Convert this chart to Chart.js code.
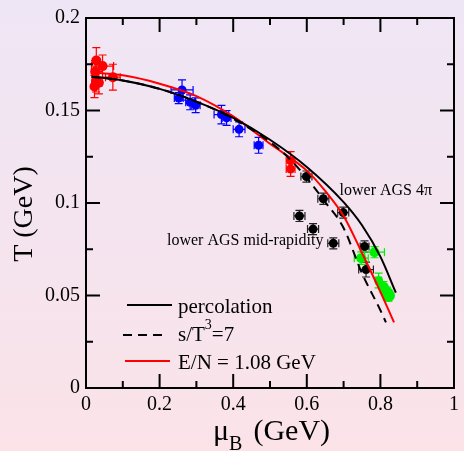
<!DOCTYPE html>
<html><head><meta charset="utf-8">
<script src="https://cdn.jsdelivr.net/npm/chart.js@4/dist/chart.umd.min.js"></script>
<style>
html,body{margin:0;padding:0;width:464px;height:451px;overflow:hidden;background:linear-gradient(180deg,#efe6f5 0%,#f4e4ef 50%,#fbe3e8 100%);}
canvas{display:block}
</style></head><body>
<canvas id="c" width="464" height="451"></canvas>
<script>
// ---- curves ----
const percMu = [0.015,0.1,0.2,0.3,0.4,0.5,0.6,0.7,0.75,0.8,0.842];
const percT  = [0.1683,0.1662,0.1617,0.1548,0.1460,0.1342,0.1195,0.1005,0.0880,0.0710,0.0515];
const entMu  = [0.015,0.1,0.2,0.3,0.4,0.5,0.55,0.6,0.65,0.7,0.75,0.8,0.815];
const entT   = [0.1683,0.1662,0.1617,0.1548,0.1455,0.1330,0.1245,0.1135,0.1005,0.0865,0.0620,0.0420,0.0355];
const enMu   = [0.015,0.1,0.2,0.3,0.4,0.5,0.6,0.65,0.7,0.75,0.8,0.837];
const enT    = [0.1705,0.1690,0.1645,0.1578,0.1468,0.1320,0.1175,0.1065,0.0930,0.0730,0.0520,0.0355];
// ---- data points ----
const redAMu    = [0.028,0.045,0.073,0.025,0.027,0.023,0.035];
const redAT     = [0.177,0.174,0.168,0.171,0.166,0.163,0.165];
const redAMuErr = [0.004,0.03,0.02,0.005,0.005,0.005,0.008];
const redATErr  = [0.007,0.006,0.007,0.006,0.006,0.006,0.006];
const blueMu    = [0.261,0.252,0.283,0.298,0.368,0.382,0.416,0.469];
const blueT     = [0.1611,0.1567,0.1544,0.1528,0.1478,0.146,0.1398,0.1312];
const blueMuErr = [0.03,0.012,0.012,0.012,0.02,0.012,0.016,0.012];
const blueTErr  = [0.0055,0.003,0.004,0.004,0.005,0.004,0.004,0.0043];
const redBMu    = [0.556,0.556];
const redBT     = [0.1228,0.1184];
const redBMuErr = [0.012,0.012];
const redBTErr  = [0.005,0.004];
const blackMu    = [0.599,0.645,0.699,0.58,0.617,0.672,0.757,0.761];
const blackT     = [0.1143,0.1023,0.0948,0.093,0.0859,0.0782,0.0765,0.064];
const blackMuErr = [0.015,0.015,0.015,0.015,0.015,0.015,0.012,0.02];
const blackTErr  = [0.003,0.003,0.003,0.003,0.003,0.003,0.003,0.004];
const greenMu    = [0.784,0.748,0.795,0.808,0.818,0.822];
const greenT     = [0.0734,0.0702,0.0581,0.0545,0.0515,0.050];
const greenMuErr = [0.027,0.019,0.008,0.008,0.008,0.008];
const greenTErr  = [0.003,0.0034,0.004,0.003,0.003,0.003];
const greenR     = [5,5,4.5,5.5,6,6.5];
// ---- ticks / labels ----
const xTickLabels = ["0","0.2","0.4","0.6","0.8","1"];
const yTickLabels = ["0","0.05","0.1","0.15","0.2"];
const curveLabels = ["percolation","s/T\u00B3=7","E/N = 1.08 GeV"];
const annotations = [
  {text:"lower AGS 4\u03C0", mu:0.689, T:0.1043},
  {text:"lower AGS mid-rapidity", mu:0.220, T:0.0775}
];

const SERIF = "'Liberation Serif','DejaVu Serif',serif";
const pts = (a,b)=>a.map((v,i)=>({x:v,y:b[i]}));

function curve(label, mu, T, color, dash){
  return {type:'line', label, data:pts(mu,T), borderColor:color, borderWidth:2,
    borderDash:dash, pointRadius:0, fill:false, tension:0.4, cubicInterpolationMode:'monotone', order:0};
}
function scat(label, mu, T, ex, ey, color, r){
  return {type:'scatter', label, data:pts(mu,T), xErr:ex, yErr:ey, backgroundColor:color,
    borderColor:color, pointRadius:r, pointHoverRadius:r, borderWidth:0, order:1};
}

const errPlugin = {
  id:'errbars',
  beforeDatasetsDraw(chart){
    const ctx = chart.ctx, xs = chart.scales.x, ys = chart.scales.y;
    chart.data.datasets.forEach(ds=>{
      if(!ds.xErr) return;
      ctx.save(); ctx.strokeStyle = ds.errColor || ds.borderColor; ctx.lineWidth = 1.2;
      ds.data.forEach((p,i)=>{
        const px = xs.getPixelForValue(p.x), py = ys.getPixelForValue(p.y);
        const x1 = xs.getPixelForValue(p.x-ds.xErr[i]), x2 = xs.getPixelForValue(p.x+ds.xErr[i]);
        const y1 = ys.getPixelForValue(p.y+ds.yErr[i]), y2 = ys.getPixelForValue(p.y-ds.yErr[i]);
        const c = 4;
        ctx.beginPath();
        ctx.moveTo(x1,py); ctx.lineTo(x2,py);
        ctx.moveTo(x1,py-c); ctx.lineTo(x1,py+c);
        ctx.moveTo(x2,py-c); ctx.lineTo(x2,py+c);
        ctx.moveTo(px,y1); ctx.lineTo(px,y2);
        ctx.moveTo(px-c,y1); ctx.lineTo(px+c,y1);
        ctx.moveTo(px-c,y2); ctx.lineTo(px+c,y2);
        ctx.stroke();
      });
      ctx.restore();
    });
  }
};

const framePlugin = {
  id:'frame',
  afterDraw(chart){
    const ctx = chart.ctx, a = chart.chartArea, xs = chart.scales.x, ys = chart.scales.y;
    ctx.save();
    ctx.strokeStyle = '#000'; ctx.lineWidth = 2;
    ctx.strokeRect(a.left, a.top, a.right-a.left, a.bottom-a.top);
    ctx.beginPath();
    for(let v=0; v<=1.0001; v+=0.1){
      const major = Math.abs(Math.round(v*10)%2)===0;
      const L = major?14:7, px = xs.getPixelForValue(v);
      ctx.moveTo(px,a.bottom); ctx.lineTo(px,a.bottom-L);
      ctx.moveTo(px,a.top); ctx.lineTo(px,a.top+L);
    }
    for(let v=0; v<=0.2001; v+=0.025){
      const major = Math.round(v/0.025)%2===0;
      const L = major?14:7, py = ys.getPixelForValue(v);
      ctx.moveTo(a.left,py); ctx.lineTo(a.left+L,py);
      ctx.moveTo(a.right,py); ctx.lineTo(a.right-L,py);
    }
    ctx.stroke();
    // axis titles
    ctx.fillStyle = '#000';
    ctx.font = '30px '+SERIF; ctx.textBaseline='alphabetic'; ctx.textAlign='left';
    let x = 213;
    ctx.fillText('\u03BC', x, 440); x += ctx.measureText('\u03BC').width;
    ctx.font = '20px '+SERIF; ctx.fillText('B', x, 450); x += ctx.measureText('B').width + 11;
    ctx.font = '30px '+SERIF; ctx.fillText('(GeV)', x, 440);
    ctx.save(); ctx.translate(32, 214); ctx.rotate(-Math.PI/2);
    ctx.textAlign='center'; ctx.font='28px '+SERIF; ctx.fillText('T (GeV)',0,0); ctx.restore();
    // annotations
    ctx.font = '16px '+SERIF; ctx.textAlign='left';
    annotations.forEach(t=>{
      ctx.fillText(t.text, xs.getPixelForValue(t.mu), ys.getPixelForValue(t.T));
    });
    // legend
    const curves = chart.data.datasets.filter(d=>d.type==='line');
    const rows = [{y:305,tb:313,x1:127,x2:172},{y:335,tb:341,x1:123,x2:166},{y:361,tb:369,x1:125,x2:170}];
    curves.forEach((d,i)=>{
      const r = rows[i];
      ctx.beginPath(); ctx.strokeStyle=d.borderColor; ctx.lineWidth=2;
      ctx.setLineDash(d.borderDash||[]);
      ctx.moveTo(r.x1,r.y); ctx.lineTo(r.x2,r.y); ctx.stroke(); ctx.setLineDash([]);
      ctx.fillStyle='#000'; ctx.font='21px '+SERIF;
      const lab = d.label;
      if(lab.indexOf('\u00B3')>=0){
        const [p1,p2] = lab.split('\u00B3');
        let tx = 178; ctx.fillText(p1,tx,r.tb); tx += ctx.measureText(p1).width;
        ctx.font='14px '+SERIF; ctx.fillText('3',tx,r.tb-12); tx += ctx.measureText('3').width;
        ctx.font='21px '+SERIF; ctx.fillText(p2,tx,r.tb);
      } else ctx.fillText(lab,178,r.tb);
    });
    ctx.restore();
  }
};

const datasets = [
  curve(curveLabels[0], percMu, percT, '#000000', []),
  curve(curveLabels[1], entMu, entT, '#000000', [9,6]),
  curve(curveLabels[2], enMu, enT, '#ff0000', []),
  scat('data A', redAMu, redAT, redAMuErr, redATErr, '#ff0000', 5),
  scat('data B', blueMu, blueT, blueMuErr, blueTErr, '#0000ff', 4.5),
  scat('data C', redBMu, redBT, redBMuErr, redBTErr, '#ff0000', 4.5),
  Object.assign(scat('lower AGS', blackMu, blackT, blackMuErr, blackTErr, '#000000', 4.5),{errColor:'#222'}),
  scat('data E', greenMu, greenT, greenMuErr, greenTErr, '#00ee00', greenR)
];

new Chart(document.getElementById('c'), {
  data:{datasets},
  options:{
    responsive:false, animation:false, events:[],
    layout:{padding:{top:14,right:5,left:0,bottom:0}},
    plugins:{legend:{display:false}, tooltip:{enabled:false}},
    scales:{
      x:{type:'linear', min:0, max:1,
        grid:{display:false, drawTicks:false}, border:{display:false},
        ticks:{stepSize:0.2, padding:5, color:'#000', font:{family:SERIF,size:20},
          callback:(v)=>{const i=Math.round(v/0.2); return xTickLabels[i];}},
        afterFit:(s)=>{s.height=63;}},
      y:{type:'linear', min:0, max:0.2,
        grid:{display:false, drawTicks:false}, border:{display:false},
        ticks:{stepSize:0.05, padding:6, color:'#000', font:{family:SERIF,size:20},
          callback:(v)=>{const i=Math.round(v/0.05); return yTickLabels[i];}},
        afterFit:(s)=>{s.width=86;}}
    }
  },
  plugins:[errPlugin, framePlugin]
});
</script>
</body></html>
